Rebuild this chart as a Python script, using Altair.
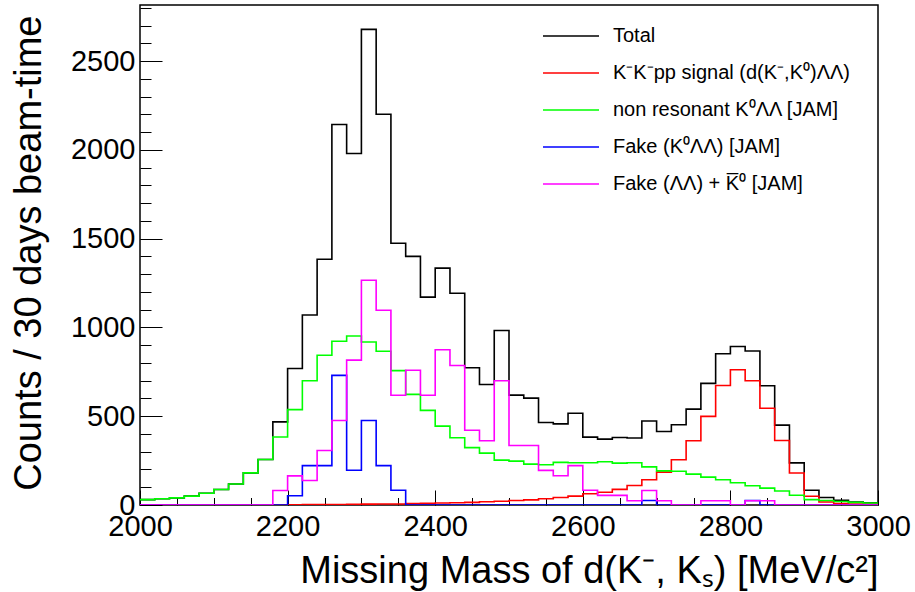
import altair as alt
import pandas as pd

# 20 MeV bins from 2000 to 3000 MeV/c^2
bin_edges = list(range(2000, 3001, 20))

total = [30, 35, 40, 50, 66, 87, 118, 181, 256, 468,
         769, 1070, 1384, 2143, 1980, 2679, 2201, 1474, 1400, 1171,
         1334, 1193, 773, 679, 983, 619, 602, 465, 457, 517,
         382, 371, 380, 377, 473, 414, 452, 540, 685, 852,
         893, 867, 672, 450, 237, 83, 42, 26, 17, 13]

signal = [0, 0, 0, 0, 0, 0, 0, 0, 0, 0,
          1, 2, 2, 3, 4, 5, 6, 6, 8, 9,
          11, 13, 15, 18, 21, 25, 29, 35, 42, 50,
          63, 72, 88, 110, 142, 185, 255, 362, 499, 673,
          762, 700, 545, 363, 180, 49, 17, 8, 6, 4]

non_resonant = [30, 35, 40, 50, 66, 87, 118, 181, 256, 383,
                537, 700, 843, 922, 952, 918, 866, 757, 623, 533,
                444, 379, 323, 292, 253, 247, 230, 227, 240, 238,
                238, 244, 236, 238, 215, 192, 190, 174, 157, 142,
                125, 108, 95, 79, 55, 30, 25, 20, 15, 11]

fake_k0_ll = [0, 0, 0, 0, 0, 0, 0, 0, 0, 0,
              52, 222, 222, 730, 196, 476, 222, 83, 0, 0,
              0, 0, 0, 0, 0, 0, 0, 0, 0, 0,
              0, 0, 0, 0, 25, 0, 0, 0, 0, 0,
              0, 25, 0, 0, 0, 0, 0, 0, 0, 0]

fake_ll_k0bar = [0, 0, 0, 0, 0, 0, 0, 0, 0, 82,
                 164, 138, 307, 476, 816, 1266, 1097, 618, 759, 618,
                 874, 786, 421, 362, 700, 335, 335, 195, 165, 222,
                 83, 54, 54, 24, 82, 24, 0, 0, 24, 24,
                 0, 24, 24, 0, 0, 0, 0, 0, 0, 0]

series_names = [
    "Total",
    "K\u207bK\u207bpp signal (d(K\u207b,K\u2070)\u039b\u039b)",
    "non resonant K\u2070\u039b\u039b [JAM]",
    "Fake (K\u2070\u039b\u039b) [JAM]",
    "Fake (\u039b\u039b) + K\u0305\u2070 [JAM]",
]
series_colors = ["#000000", "#ff0000", "#00ff00", "#0000ff", "#ff00ff"]

x_major = list(range(2000, 3001, 200))
x_minor = list(range(2000, 3001, 50))
y_major = list(range(0, 2501, 500))
y_minor = list(range(0, 2801, 100))

W, H = 738, 500
FONT = "Liberation Sans"


def hist_frame(name, counts):
    # step outline: each bin starts at its left edge, the closing edge repeats the last bin
    return pd.DataFrame({"mass": bin_edges,
                         "counts": counts + [counts[-1]],
                         "series": name})


color = alt.Color(
    "series:N",
    scale=alt.Scale(domain=series_names, range=series_colors),
    legend=alt.Legend(
        title=None, orient="none", legendX=402, legendY=21,
        symbolType="stroke", symbolSize=3136, symbolStrokeWidth=1.5,
        labelFont=FONT, labelFontSize=20, labelColor="black",
        labelOffset=13, rowPadding=17, clipHeight=20, padding=0,
        labelLimit=500,
    ),
)

x_scale = alt.Scale(domain=[2000, 3000], nice=False, zero=False)
y_scale = alt.Scale(domain=[0, 2816], nice=False)

no_axis_text = dict(labels=False, domain=False, grid=False, title=None,
                    tickColor="black", tickWidth=1)


def layer(counts, name, x_axis, y_axis):
    return alt.Chart(hist_frame(name, counts)).mark_line(
        interpolate="step-after", strokeWidth=1.6, clip=True
    ).encode(
        x=alt.X("mass:Q", scale=x_scale, axis=x_axis),
        y=alt.Y("counts:Q", scale=y_scale, axis=y_axis),
        color=color,
    )


# labelled axes
x_labels = alt.Axis(
    values=x_major, format="d", ticks=False, domain=False, grid=False,
    labelFont=FONT, labelFontSize=29, labelColor="black", labelPadding=7,
    labelFlush=False, labelOverlap=False,
    title="Missing Mass of d(K\u207b, K\u209b) [MeV/c\u00b2]",
    titleFont=FONT, titleFontSize=38, titleFontWeight="normal", titleColor="black",
    titleAlign="right", titleAnchor="end", titleX=W, titleY=77,
    titleBaseline="alphabetic",
)
y_labels = alt.Axis(
    values=y_major, format="d", ticks=False, domain=False, grid=False,
    labelFont=FONT, labelFontSize=29, labelColor="black", labelPadding=5,
    labelFlush=False, labelOverlap=False,
    title="Counts / 30 days beam-time",
    titleFont=FONT, titleFontSize=38, titleFontWeight="normal", titleColor="black",
    titleAngle=270, titleAlign="right", titleAnchor="end",
    titleX=-100, titleY=10, titleBaseline="alphabetic",
)

# inward-pointing ticks: axes mirrored onto the opposite frame edge
x_major_ticks = alt.Axis(orient="top", offset=-H, values=x_major, tickSize=15, **no_axis_text)
x_minor_ticks = alt.Axis(orient="top", offset=-H, values=x_minor, tickSize=7.5, **no_axis_text)
y_major_ticks = alt.Axis(orient="right", offset=-W, values=y_major, tickSize=22, **no_axis_text)
y_minor_ticks = alt.Axis(orient="right", offset=-W, values=y_minor, tickSize=11, **no_axis_text)

chart = alt.layer(
    layer(total, series_names[0], x_labels, y_labels),
    layer(signal, series_names[1], x_major_ticks, y_major_ticks),
    layer(non_resonant, series_names[2], x_minor_ticks, y_minor_ticks),
    layer(fake_k0_ll, series_names[3], None, None),
    layer(fake_ll_k0bar, series_names[4], None, None),
).resolve_scale(
    x="shared", y="shared", color="shared"
).resolve_axis(
    x="independent", y="independent"
).properties(
    width=W, height=H,
    autosize=alt.AutoSizeParams(type="none"),
    padding={"left": 140, "top": 5, "right": 37, "bottom": 87},
    background="white",
).configure_view(
    stroke="black", strokeWidth=1.5
)

chart.save("out.html", embed_options={"renderer": "svg", "actions": False})
